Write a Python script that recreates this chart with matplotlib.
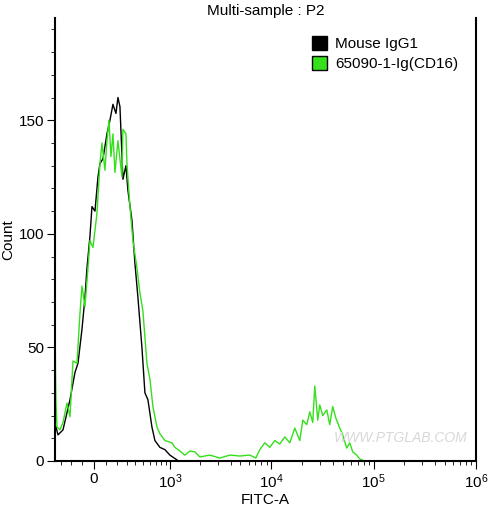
import numpy as np
import matplotlib
matplotlib.use("Agg")
import matplotlib.pyplot as plt
from matplotlib.patches import Patch

plt.rcParams['font.family'] = ['Liberation Sans', 'DejaVu Sans']
plt.rcParams['mathtext.fontset'] = 'custom'
plt.rcParams['mathtext.rm'] = 'Liberation Sans'

# display channel (0-420 scale of biexponential display) and counts
black_ch = [1,3,8,15,20,23,27,30,32,35,37,40,43,45,48,52,55,58,61,63,65,68,71,73,77,80,83,87,90,93,97,100,105,110,115,122]
black_ct = [15,11.5,13.7,27,39,43,58,72,85,99,112,110,125,131,133,144,150,157,153,160,156,124,130,119,106,87,72,50,30,27,15,9,6,5,2.6,0.5]

green_ch = [0,0.5,1,2,5,8,12,15,18,22,25,27,30,33,35,38,42,45,47,48,50,52,54,56,58,60,63,67,68,71,72,75,78,82,85,88,92,95,98,102,105,110,117,
            120,125,130,135,140,145,155,165,175,185,195,201,205,210,215,220,225,230,235,240,245,248,252,255,258,260,263,265,268,272,275,278,281,285,288,292,295,298,302,305,310]
green_ct = [64,40,25.5,15,13.7,17,25.5,19.5,44,43,65,77,68,85,97,94,109,131,140,136,128,141,150,134,144,127,141,125,146,144,131,112,97,85,74,66,43,36,24,15,12,9,8,
            6,4.4,2.6,4.4,4,1.8,2.6,1.3,2.6,2.2,2.6,1.3,5,8,6,9,7.5,10.6,8,14.5,9,18,16,21.6,17,33,18,24.7,20,22.5,16,24,19,14.5,11.5,5.7,8,4,2.6,0.9,0]

series_names = ["Mouse IgG1", "65090-1-Ig(CD16)"]
x_tick_labels = ["0", "$\\mathregular{10^3}$", "$\\mathregular{10^4}$", "$\\mathregular{10^5}$", "$\\mathregular{10^6}$"]

W = 372.0
def to_ch(v):
    return 39 + 102.5 * np.arcsinh(np.asarray(v, float) / W) / np.log(10)

fig = plt.figure(figsize=(4.96, 5.12), dpi=100)
ax = fig.add_axes([55/496, 1-461/512, (476-55)/496, (461-18)/512])
green = "#33e01a"
ax.plot(black_ch, black_ct, color="black", lw=1.0)
ax.plot(green_ch, green_ct, color=green, lw=1.0)

ax.set_xlim(0, 421)
ax.set_ylim(0, 195)
ax.set_xticks(to_ch([0, 1e3, 1e4, 1e5, 1e6]))
ax.set_xticklabels(x_tick_labels, fontsize=11)
minor = [-300, -200, -100] + [k*10**e for e in range(2, 6) for k in range(1, 10) if not (k == 1 and e > 2)]
ax.set_xticks(to_ch(minor), minor=True)
ax.set_yticks([0, 50, 100, 150])
ax.set_yticks(np.arange(0, 195, 10), minor=True)
ax.tick_params(which="major", length=6, direction="out", labelsize=11, pad=2)
ax.tick_params(which="minor", length=3, direction="out")
ax.spines["top"].set_visible(False)
for s in ax.spines.values():
    s.set_linewidth(1.5)
ax.set_xlabel("FITC-A", fontsize=11, labelpad=2)
ax.set_ylabel("Count", fontsize=11, labelpad=2)
ax.set_title("Multi-sample : P2", fontsize=11, pad=1)

handles = [Patch(facecolor="black", edgecolor="black"), Patch(facecolor=green, edgecolor="black")]
ax.legend(handles, series_names, loc="upper right", frameon=False, fontsize=11,
          handlelength=1.0, handleheight=1.0, handletextpad=0.5, labelspacing=0.3,
          bbox_to_anchor=(0.99, 0.99))
ax.text(0.98, 0.035, "WWW.PTGLAB.COM", transform=ax.transAxes, ha="right", va="bottom",
        fontsize=10, color="#d8d8d8", style="italic")
fig.savefig("out.png", dpi=100)
